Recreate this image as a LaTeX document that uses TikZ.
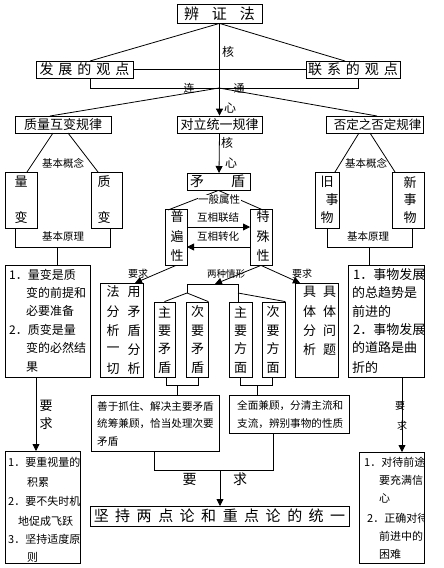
\documentclass[tikz,border=0pt]{standalone}
\usepackage{fontspec}
\setmainfont{Noto Sans CJK SC}
\usetikzlibrary{arrows.meta}
\newcommand{\fs}[1]{\fontsize{#1}{#1}\selectfont}
\begin{document}
\begin{tikzpicture}[x=1pt,y=-1pt,
  ln/.style={line width=0.8pt},
  arr/.style={line width=0.8pt,-{Triangle[length=7pt,width=7pt]}},
  box/.style={draw,line width=0.8pt,inner sep=0,rectangle},
  tc/.style={inner sep=0,anchor=center},
  tw/.style={inner sep=0,anchor=west},
  lbl/.style={inner sep=0,anchor=center,font=\fs{10.5}}]
\fill[white] (0,0) rectangle (444,568);
\useasboundingbox (0,0) rectangle (444,568);

% ---------- top ----------
\node[box,minimum width=85pt,minimum height=19pt,font=\fs{15}] (bzf) at (219.5,13.5) {辨\hspace{13pt}证\hspace{13pt}法};
\node[box,minimum width=97pt,minimum height=17pt,font=\fs{14}] (fz) at (84.5,69.5) {发\hspace{5pt}展\hspace{5pt}的\hspace{5pt}观\hspace{5pt}点};
\node[box,minimum width=94pt,minimum height=17pt,font=\fs{14}] (lx) at (353,69.5) {联\hspace{5pt}系\hspace{5pt}的\hspace{5pt}观\hspace{5pt}点};
\coordinate (fzt) at (90,61);
\coordinate (lxt) at (345,61);
\draw[ln] (bzf.south) -- (fzt);
\draw[ln] (bzf.south) -- (lxt);
\draw[ln] (fz.east) -- (lx.west);

\node[box,minimum width=96pt,minimum height=17pt,font=\fs{13}] (zl) at (63,124.5) {质量互变规律};
\node[box,minimum width=85pt,minimum height=17pt,font=\fs{13}] (dl) at (219.5,124.5) {对立统一规律};
\node[box,minimum width=97pt,minimum height=17pt,font=\fs{12.5}] (fd) at (374.5,124.5) {\hspace{6pt}否定之否定规律};

\draw[arr] (bzf.south) -- (dl.north);
\node[tc,font=\fs{12}] (he1) at (228,52) {核};
\node[tc,font=\fs{12}] (xin1) at (230,108) {心};

\coordinate (fzb) at (90,78);
\coordinate (lxb) at (358,78);
\coordinate (jn) at (219,88);
\draw[ln] (fzb) -- (90,88) -- (358,88) -- (lxb);
\coordinate (zlt) at (50,116);
\coordinate (fdt) at (377,116);
\draw[ln] (jn) -- (zlt);
\draw[ln] (jn) -- (fdt);
\node[tc,font=\fs{11}] (lian) at (189,88) {连};
\node[tc,font=\fs{11}] (tong) at (239,88) {通};

% ---------- left column ----------
\node[box,minimum width=32pt,minimum height=56pt] (lb) at (21,200) {};
\node[tc,font=\fs{13}] (lb1) at (21,182) {量};
\node[tc,font=\fs{13}] (lb2) at (21,218) {变};
\node[box,minimum width=31pt,minimum height=56pt] (zb) at (106.5,200) {};
\node[tc,font=\fs{13}] (zb1) at (104,182) {质};
\node[tc,font=\fs{13}] (zb2) at (104,218) {变};
\coordinate (zlb1) at (53,133);
\coordinate (zlb2) at (68,133);
\draw[ln] (zlb1) -- (27,172);
\draw[ln] (zlb2) -- (98,172);
\node[lbl] (jbgn1) at (63,163) {基本概念};
\draw[ln] (15,228) -- (15,247) -- (110,247) -- (110,228);
\node[lbl] (jbyl1) at (63,237) {基本原理};

\node[box,minimum width=85pt,minimum height=112pt] (b1) at (47.5,321) {};
\draw[ln] (57,247) -- (b1.north -| 57,0);
\node[tw,font=\fs{12}] (b1a) at (9,275) {1．量变是质};
\node[tw,font=\fs{12}] (b1b) at (26,293) {变的前提和};
\node[tw,font=\fs{12}] (b1c) at (26,311) {必要准备};
\node[tw,font=\fs{12}] (b1d) at (9,330) {2．质变是量};
\node[tw,font=\fs{12}] (b1e) at (26,348) {变的必然结};
\node[tw,font=\fs{12}] (b1f) at (26,367) {果};

\node[box,minimum width=75pt,minimum height=112pt] (b2) at (42.5,507) {};
\draw[arr] (36,377) -- (36,451);
\node[tc,font=\fs{13}] (yq1a) at (46,406) {要};
\node[tc,font=\fs{13}] (yq1b) at (46,424) {求};
\begin{scope}
\clip (5,451) rectangle (80,563);
\node[tw,font=\fs{11}] (b2a) at (8,462) {1．要重视量的};
\node[tw,font=\fs{11}] (b2b) at (27,482) {积累};
\node[tw,font=\fs{11}] (b2c) at (8,501) {2．要不失时机};
\node[tw,font=\fs{11}] (b2d) at (18,521) {地促成飞跃};
\node[tw,font=\fs{11}] (b2e) at (8,539) {3．坚持适度原};
\node[tw,font=\fs{11}] (b2f) at (27,557) {则};
\end{scope}

% ---------- middle column ----------
\node[box,minimum width=63pt,minimum height=17pt] (md) at (218.5,181.5) {};
\node[tc,font=\fs{14}] (md1) at (197,181.5) {矛};
\node[tc,font=\fs{14}] (md2) at (238,181.5) {盾};
\draw[arr] (dl.south) -- (219,173);
\node[tc,font=\fs{12}] (he2) at (227,143) {核};
\node[tc,font=\fs{12}] (xin2) at (231,163) {心};

\node[box,minimum width=22pt,minimum height=56pt] (pb) at (176,237) {};
\node[tc,font=\fs{13}] (pb1) at (177,217) {普};
\node[tc,font=\fs{13}] (pb2) at (177,237) {遍};
\node[tc,font=\fs{13}] (pb3) at (177,256) {性};
\node[box,minimum width=22pt,minimum height=56pt] (ts) at (261,237) {};
\node[tc,font=\fs{13}] (ts1) at (263,217) {特};
\node[tc,font=\fs{13}] (ts2) at (263,237) {殊};
\node[tc,font=\fs{13}] (ts3) at (263,256) {性};
\draw[ln] (md.south) -- (168,210);
\draw[ln] (md.south) -- (263,210);
\node[lbl,fill=white,inner sep=0.5pt] (ybsx) at (219,200) {一般属性};
\draw[arr] (187,227) -- (250,227);
\node[lbl] (hxlj) at (218,218) {互相联结};
\draw[arr] (250,247) -- (187,247);
\node[lbl] (hxzh) at (218,237) {互相转化};

\node[box,minimum width=43pt,minimum height=94pt] (fy) at (121.5,330) {};
\foreach \c/\y [count=\i] in {法/292,分/312,析/331,一/350,切/369}
  \node[tc,font=\fs{13}] (fyl\i) at (113,\y) {\c};
\foreach \c/\y [count=\i] in {用/292,矛/312,盾/331,分/350,析/369}
  \node[tc,font=\fs{13}] (fyr\i) at (134,\y) {\c};
\draw[arr] (pb.south) -- (135,283);
\node[lbl,font=\fs{10}] (yq2) at (138,274) {要求};

\draw[arr] (ts.south) -- (215,284);
\node[lbl,font=\fs{9.5}] (lzqx) at (226,274) {两种情形};
\draw[arr] (ts.south) -- (300,283);
\node[lbl,font=\fs{10}] (yq3) at (302,274) {要求};

\node[box,minimum width=21pt,minimum height=75pt] (zym) at (164.5,339.5) {};
\node[box,minimum width=22pt,minimum height=75pt] (cym) at (197,339.5) {};
\node[box,minimum width=23pt,minimum height=75pt] (zyf) at (240.5,339.5) {};
\node[box,minimum width=23pt,minimum height=75pt] (cyf) at (273.5,339.5) {};
\foreach \c/\y [count=\i] in {主/312,要/331,矛/349,盾/368}
  \node[tc,font=\fs{13}] (zymt\i) at (164.5,\y) {\c};
\foreach \c/\y [count=\i] in {次/312,要/331,矛/349,盾/368}
  \node[tc,font=\fs{13}] (cymt\i) at (197.5,\y) {\c};
\foreach \c/\y [count=\i] in {主/312,要/331,方/349,面/368}
  \node[tc,font=\fs{13}] (zyft\i) at (240.5,\y) {\c};
\foreach \c/\y [count=\i] in {次/312,要/331,方/349,面/368}
  \node[tc,font=\fs{13}] (cyft\i) at (273,\y) {\c};
\draw[ln] (187,284) -- (238,284);
\draw[ln] (187,284) -- (187,293);
\draw[ln] (187,293) -- (zym.north);
\draw[ln] (187,293) -- (cym.north east);
\draw[ln] (238,284) -- (238,302);
\draw[ln] (238,293) -- (cyf.north east);

\node[box,minimum width=43pt,minimum height=94pt] (jt) at (316.5,330) {};
\foreach \c/\y [count=\i] in {具/292,体/312,分/331,析/350}
  \node[tc,font=\fs{13}] (jtl\i) at (309.5,\y) {\c};
\foreach \c/\y [count=\i] in {具/292,体/312,问/331,题/350}
  \node[tc,font=\fs{13}] (jtr\i) at (329.5,\y) {\c};

\draw[ln] (166,377) -- (166,385) -- (198,385) -- (198,377);
\draw[ln] (240,377) -- (240,385) -- (272,385) -- (272,377);

\node[box,minimum width=128pt,minimum height=56pt] (sy) at (155,423) {};
\node[box,minimum width=120pt,minimum height=38pt] (qm) at (289,414) {};
\draw[ln] (177,385) -- (177,395);
\draw[ln] (257,385) -- (257,395);
\node[tw,font=\fs{10.6}] (sy1) at (97,406) {善于抓住、解决主要矛盾};
\node[tw,font=\fs{10.6}] (sy2) at (97,424) {统筹兼顾，恰当处理次要};
\node[tw,font=\fs{10.6}] (sy3) at (97,442) {矛盾};
\node[tw,font=\fs{10.6}] (qm1) at (237,406) {全面兼顾，分清主流和};
\node[tw,font=\fs{10.6}] (qm2) at (237,424) {支流，辨别事物的性质};

\node[box,minimum width=259pt,minimum height=20pt,font=\fs{15}] (jc) at (219.5,516)
 {坚\hspace{6.5pt}持\hspace{6.5pt}两\hspace{6.5pt}点\hspace{6.5pt}论\hspace{6.5pt}和\hspace{6.5pt}重\hspace{6.5pt}点\hspace{6.5pt}论\hspace{6.5pt}的\hspace{6.5pt}统\hspace{6.5pt}一};
\draw[ln] (154,451) -- (154,470) -- (273,470) -- (273,433);
\draw[arr] (220,470) -- (220,506);
\node[tc,font=\fs{14}] (yq4a) at (189.5,479) {要};
\node[tc,font=\fs{14}] (yq4b) at (240,479) {求};

% ---------- right column ----------
\node[box,minimum width=24pt,minimum height=56pt] (jw) at (327,200) {};
\node[tc,font=\fs{13}] (jw1) at (327,182) {旧};
\node[tc,font=\fs{13}] (jw2) at (332,200) {事};
\node[tc,font=\fs{13}] (jw3) at (327,218) {物};
\node[box,minimum width=32pt,minimum height=56pt] (xw) at (408,200) {};
\node[tc,font=\fs{13}] (xw1) at (410,182) {新};
\node[tc,font=\fs{13}] (xw2) at (410,200) {事};
\node[tc,font=\fs{13}] (xw3) at (410,218) {物};
\coordinate (fdb1) at (359,133);
\coordinate (fdb2) at (370,133);
\draw[ln] (fdb1) -- (335,172);
\draw[ln] (fdb2) -- (395,172);
\node[lbl] (jbgn2) at (366,163) {基本概念};
\draw[ln] (327,228) -- (327,247) -- (412,247) -- (412,228);
\node[lbl] (jbyl2) at (368,237) {基本原理};

\node[box,minimum width=76pt,minimum height=112pt] (b3) at (386,321) {};
\draw[ln] (369,247) -- (369,265);
\begin{scope}
\clip (348,265) rectangle (424,377);
\node[tw,font=\fs{13}] (b3a) at (353,275) {1．事物发展};
\node[tw,font=\fs{13}] (b3b) at (352,293) {的总趋势是};
\node[tw,font=\fs{13}] (b3c) at (352,312) {前进的};
\node[tw,font=\fs{13}] (b3d) at (353,330) {2．事物发展};
\node[tw,font=\fs{13}] (b3e) at (352,348) {的道路是曲};
\node[tw,font=\fs{13}] (b3f) at (352,368) {折的};
\end{scope}

\node[box,minimum width=65pt,minimum height=111pt] (b4) at (391.5,507.5) {};
\draw[arr] (402,377) -- (402,452);
\node[tc,font=\fs{10}] (yq5a) at (400,406) {要};
\node[tc,font=\fs{10}] (yq5b) at (402,426) {求};
\begin{scope}
\clip (359,452) rectangle (424,563);
\node[tw,font=\fs{11}] (b4a) at (364,462) {1．对待前途};
\node[tw,font=\fs{11}] (b4b) at (379,480) {要充满信};
\node[tw,font=\fs{11}] (b4c) at (379,498) {心};
\node[tw,font=\fs{11}] (b4d) at (367,518) {2．正确对待};
\node[tw,font=\fs{11}] (b4e) at (379,536) {前进中的};
\node[tw,font=\fs{11}] (b4f) at (379,554) {困难};
\end{scope}
\end{tikzpicture}
\end{document}
